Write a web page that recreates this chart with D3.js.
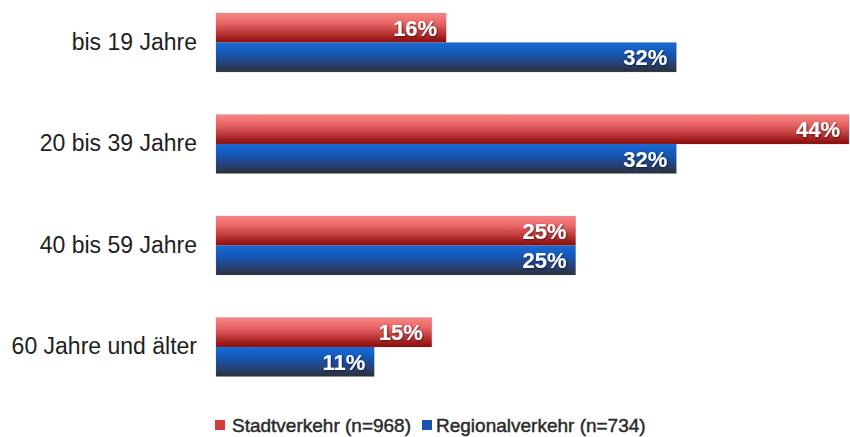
<!DOCTYPE html>
<html>
<head>
<meta charset="utf-8">
<script src="https://cdn.jsdelivr.net/npm/d3@7/dist/d3.min.js"></script>
<style>
  html, body { margin: 0; padding: 0; background: #fff; }
  svg { display: block; font-family: "Liberation Sans", Arial, Helvetica, sans-serif; }
</style>
</head>
<body>
<svg id="chart" width="850" height="437"></svg>
<script>
// Altersgruppen und Anteile je Verkehrsart
const categories = ["bis 19 Jahre", "20 bis 39 Jahre", "40 bis 59 Jahre", "60 Jahre und älter"];
const seriesNames = ["Stadtverkehr (n=968)", "Regionalverkehr (n=734)"];
const stadtverkehr = [16, 44, 25, 15];
const regionalverkehr = [32, 32, 25, 11];

const seriesValues = [stadtverkehr, regionalverkehr];
const svg = d3.select("#chart");

// Farbverläufe der Balken
const defs = svg.append("defs");
const gradients = [
  { id: "gradRed", stops: [["0%", "#f98686"], ["35%", "#e86464"], ["70%", "#b83434"], ["100%", "#8a0808"]] },
  { id: "gradBlue", stops: [["0%", "#1a6ad6"], ["35%", "#1458b8"], ["70%", "#26427a"], ["100%", "#2b3038"]] }
];
gradients.forEach(g => {
  const lg = defs.append("linearGradient").attr("id", g.id)
    .attr("x1", 0).attr("y1", 0).attr("x2", 0).attr("y2", 1);
  g.stops.forEach(([o, c]) => lg.append("stop").attr("offset", o).attr("stop-color", c));
});
const shadow = defs.append("filter").attr("id", "txtShadow")
  .attr("x", "-20%").attr("y", "-20%").attr("width", "140%").attr("height", "140%");
shadow.append("feDropShadow").attr("dx", 0.8).attr("dy", 1).attr("stdDeviation", 0.8)
  .attr("flood-color", "#000").attr("flood-opacity", 0.55);

const x0 = 216;
const x = d3.scaleLinear().domain([0, 44]).range([x0, 849]);

const y = d3.scaleBand().domain(categories)
  .range([13, 376.5]).paddingInner(0.419).paddingOuter(0);
const ySub = d3.scaleBand().domain(d3.range(seriesNames.length))
  .range([0, y.bandwidth()]).padding(0);

const fills = ["url(#gradRed)", "url(#gradBlue)"];
const legendColors = ["#d43c3c", "#1a52b0"];

const groups = svg.append("g").selectAll("g.grp")
  .data(categories).join("g").attr("class", "grp")
  .attr("transform", d => `translate(0,${y(d)})`);

groups.each(function(cat, i) {
  const g = d3.select(this);
  seriesValues.forEach((vals, s) => {
    const v = vals[i];
    g.append("rect")
      .attr("x", x0).attr("y", ySub(s))
      .attr("width", x(v) - x0).attr("height", ySub.bandwidth())
      .attr("fill", fills[s])
      .attr("stroke", "rgba(120,120,120,0.25)").attr("stroke-width", 0.8);
    g.append("text")
      .attr("x", x(v) - 9).attr("y", ySub(s) + ySub.bandwidth() / 2)
      .attr("dy", "0.36em").attr("text-anchor", "end")
      .attr("fill", "#fff").attr("font-weight", "bold").attr("font-size", 22)
      .attr("filter", "url(#txtShadow)")
      .text(v + "%");
  });
});

// Kategorienachse links
const yAxis = d3.axisLeft(y).tickSize(0).tickPadding(0);
const axisG = svg.append("g").attr("transform", `translate(197,0)`).call(yAxis);
axisG.select(".domain").remove();
axisG.selectAll("text").attr("font-size", 23).attr("fill", "#1e1e1e")
  .attr("font-family", "'Liberation Sans', Arial, sans-serif");

// Legende
const legendItems = [{ sx: 215, tx: 232 }, { sx: 422, tx: 436 }];
const legend = svg.append("g");
seriesNames.forEach((name, s) => {
  legend.append("rect").attr("x", legendItems[s].sx).attr("y", 420)
    .attr("width", 10).attr("height", 10).attr("fill", legendColors[s]);
  legend.append("text").attr("x", legendItems[s].tx).attr("y", 425)
    .attr("dy", "0.36em").attr("font-size", 19)
    .attr("fill", "#2a2a2a").attr("stroke", "#2a2a2a").attr("stroke-width", 0.45)
    .text(name);
});
</script>
</body>
</html>
